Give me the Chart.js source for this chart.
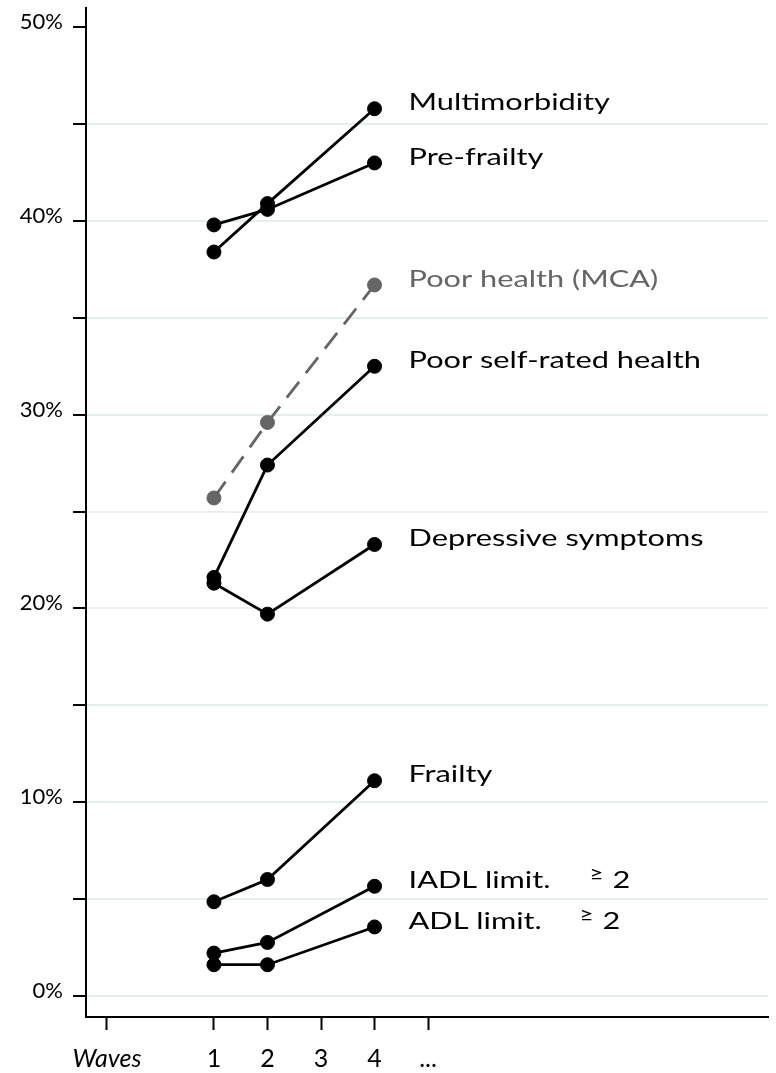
<!DOCTYPE html>
<html>
<head>
<meta charset="utf-8">
<script src="https://cdn.jsdelivr.net/npm/chart.js@4/dist/chart.umd.min.js"></script>
<style>
  html, body { margin: 0; padding: 0; background: #fff; }
  #chart { display: block; }
</style>
</head>
<body>
<canvas id="chart" width="776" height="1073"></canvas>
<script>
// waves on the x axis
const waves = [1, 2, 4];

// prevalence (%) per wave
const multimorbidity = [38.4, 40.9, 45.8];
const preFrailty = [39.8, 40.6, 43.0];
const poorHealthMCA = [25.7, 29.6, 36.7];
const poorSelfRated = [21.6, 27.4, 32.5];
const depressive = [21.3, 19.7, 23.3];
const frailty = [4.85, 6.0, 11.1];
const iadlLimit = [2.2, 2.75, 5.65];
const adlLimit = [1.6, 1.6, 3.55];

const seriesNames = ['Multimorbidity', 'Pre-frailty', 'Poor health (MCA)', 'Poor self-rated health',
    'Depressive symptoms', 'Frailty', 'IADL limit.', 'ADL limit.'];
const seriesValues = [multimorbidity, preFrailty, poorHealthMCA, poorSelfRated,
    depressive, frailty, iadlLimit, adlLimit];

// axis ticks
const yTickValues = [0, 5, 10, 15, 20, 25, 30, 35, 40, 45, 50];
const xTickValues = [-1, 1, 2, 3, 4, 5];
const xTickLabels = ['Waves', '1', '2', '3', '4', '...'];

const FONT = 'Lato, "Open Sans", sans-serif';
const BLACK = '#000000';
const GREY = '#656565';
const GRID = '#e6eef0';
const STRETCH = 1.28; // the original lettering is wide

const datasets = seriesNames.map((name, i) => {
    const isMCA = name === 'Poor health (MCA)';
    const col = isMCA ? GREY : BLACK;
    return {
        label: name,
        data: waves.map((w, j) => ({ x: w, y: seriesValues[i][j] })),
        borderColor: col,
        backgroundColor: col,
        borderWidth: 2.8,
        borderDash: isMCA ? [20, 11] : [],
        pointRadius: 7,
        pointBorderWidth: 1,
        pointBackgroundColor: col,
        pointBorderColor: col,
        tension: 0
    };
});

function wideText(ctx, text, x, y, font) {
    ctx.save();
    ctx.translate(x, y);
    ctx.scale(STRETCH, 1);
    ctx.font = font;
    ctx.fillText(text, 0, 0);
    ctx.restore();
}

// labels to the right of the last point of each series
const endLabels = {
    id: 'endLabels',
    afterDatasetsDraw(chart) {
        const ctx = chart.ctx;
        ctx.save();
        ctx.textBaseline = 'middle';
        ctx.textAlign = 'left';
        chart.data.datasets.forEach((ds, i) => {
            const meta = chart.getDatasetMeta(i);
            const last = meta.data[meta.data.length - 1];
            const x = last.x + 34;
            const y = last.y - 6;
            ctx.fillStyle = ds.borderColor;
            wideText(ctx, ds.label, x, y, '24px ' + FONT);
            if (ds.label.indexOf('ADL') >= 0) {
                // "≥ 2" threshold after the name
                const gap = ds.label === 'IADL limit.' ? 181 : 171;
                wideText(ctx, '\u2265', x + gap, y - 6, '19px ' + FONT);
                wideText(ctx, '2', x + gap + 23, y, '24px ' + FONT);
            }
        });
        ctx.restore();
    }
};

new Chart(document.getElementById('chart').getContext('2d'), {
    type: 'line',
    data: { datasets },
    plugins: [endLabels],
    options: {
        responsive: false,
        animation: false,
        devicePixelRatio: 1,
        events: [],
        layout: { padding: { top: 8, right: -2, left: 0, bottom: 0 } },
        plugins: { legend: { display: false }, tooltip: { enabled: false } },
        scales: {
            x: {
                type: 'linear',
                min: -1.39,
                max: 11.35,
                afterBuildTicks: s => { s.ticks = xTickValues.map(v => ({ value: v })); },
                afterFit: s => { s.height = 56; s.paddingLeft = 0; s.paddingRight = 0; },
                grid: { drawOnChartArea: false, tickLength: 13, tickColor: BLACK, tickWidth: 2 },
                border: { color: BLACK, width: 2 },
                ticks: {
                    autoSkip: false,
                    maxRotation: 0,
                    padding: 14,
                    color: BLACK,
                    callback: v => xTickLabels[xTickValues.indexOf(v)],
                    font: c => ({ family: FONT, size: 25, style: c.tick && c.tick.value === -1 ? 'italic' : 'normal' })
                }
            },
            y: {
                min: -1.1,
                max: 51,
                afterBuildTicks: s => { s.ticks = yTickValues.map(v => ({ value: v })); },
                afterFit: s => { s.width = 86; s.paddingTop = 0; s.paddingBottom = 0; },
                grid: {
                    color: c => (c.tick && c.tick.value === 50) ? 'rgba(0,0,0,0)' : GRID,
                    lineWidth: 2,
                    tickLength: 13,
                    tickColor: BLACK,
                    tickWidth: 2
                },
                border: { color: BLACK, width: 2 },
                ticks: {
                    padding: 10,
                    labelOffset: -5,
                    color: BLACK,
                    font: { family: FONT, size: 22 },
                    callback: v => (v % 10 === 0 ? v + '%' : '')
                }
            }
        }
    }
});
</script>
</body>
</html>
